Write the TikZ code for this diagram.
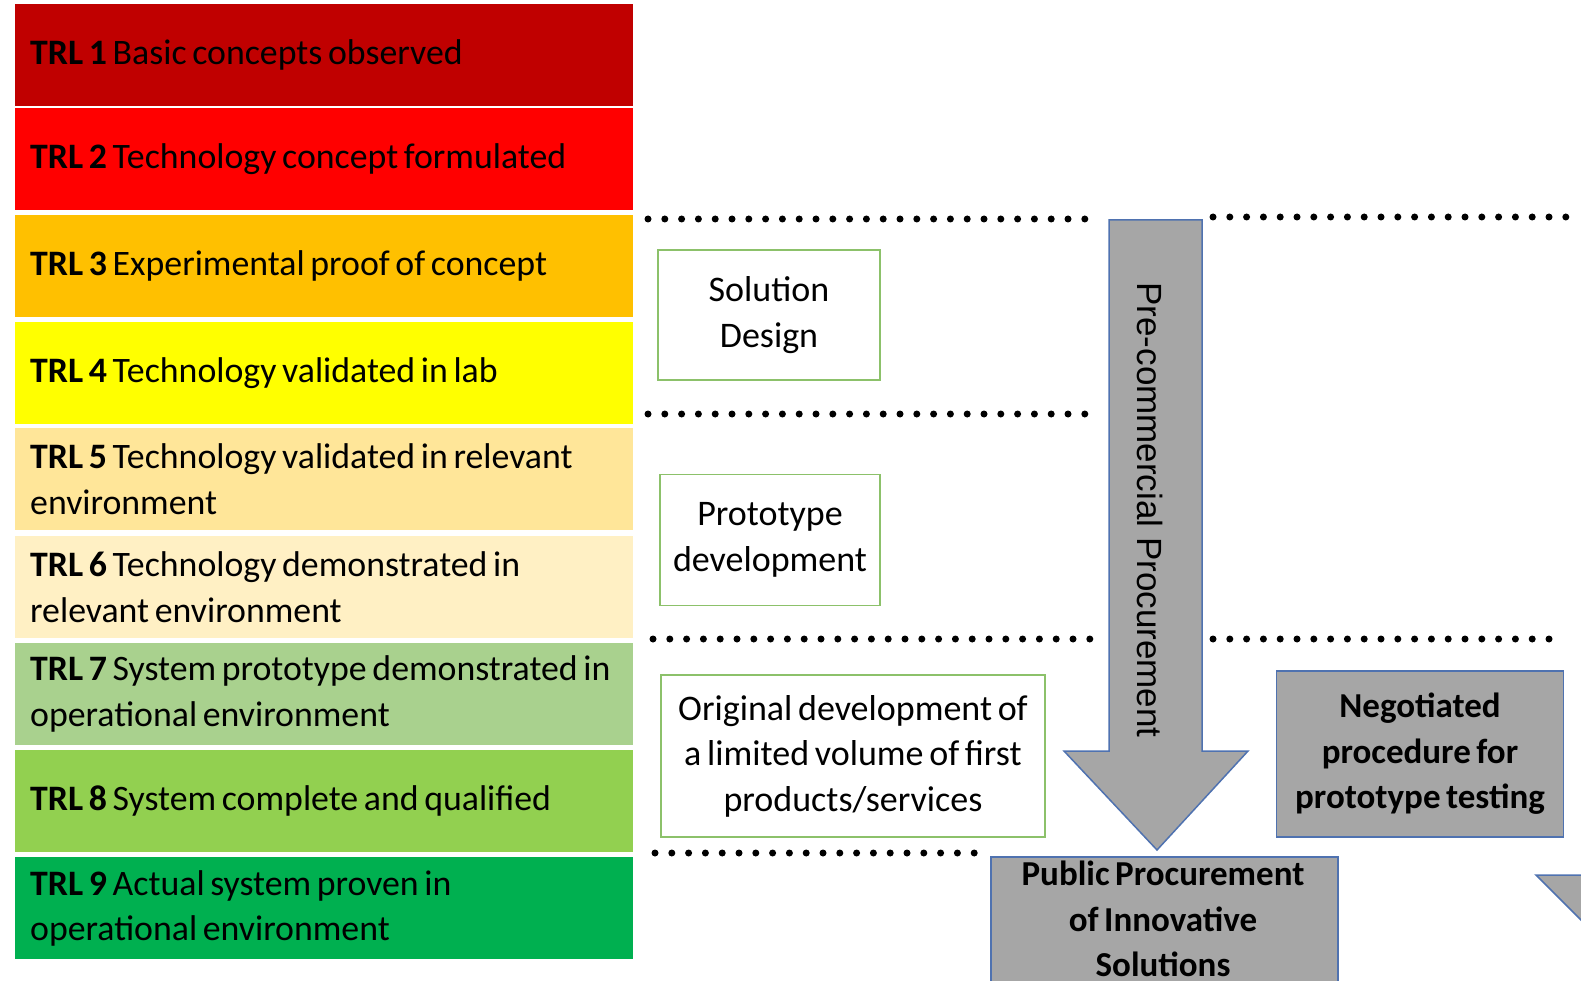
\documentclass[tikz,border=0pt]{standalone}
\usepackage{fontspec}
\setmainfont{Carlito}[WordSpace=0.7]
\newfontfamily\arrowfont{Liberation Sans}
\definecolor{c1}{HTML}{C00000}
\definecolor{c2}{HTML}{FF0000}
\definecolor{c3}{HTML}{FFC000}
\definecolor{c4}{HTML}{FFFF00}
\definecolor{c5}{HTML}{FFE699}
\definecolor{c6}{HTML}{FFF0C4}
\definecolor{c7}{HTML}{A9D18E}
\definecolor{c8}{HTML}{92D050}
\definecolor{c9}{HTML}{00B050}
\definecolor{boxgreen}{HTML}{8CC16A}
\definecolor{arrgray}{HTML}{A6A6A6}
\definecolor{arrblue}{HTML}{4F72B0}
\newcommand\trlfont{\fontsize{35.8}{45.5}\selectfont}
\newcommand\boxfont{\fontsize{36}{45.5}\selectfont}
\newcommand\grayfont{\fontsize{35}{45.5}\selectfont}
\begin{document}
\begin{tikzpicture}[x=1pt,y=-1pt,
  trlrow/.style={rectangle, anchor=north west, minimum width=618pt, minimum height=102pt,
    inner xsep=15pt, inner ysep=0pt, text width=588pt, align=flush left, font=\trlfont, text=black},
  gbox/.style={rectangle, draw=boxgreen, line width=1.5pt, fill=white, align=center,
    font=\boxfont, inner sep=0pt},
  graybox/.style={rectangle, draw=arrblue, line width=1.5pt, fill=arrgray, align=center,
    font=\grayfont\bfseries, inner sep=0pt},
  dotline/.style={line width=7pt, line cap=round, dash pattern=on 0pt off 16.8pt},
  grayshape/.style={draw=arrblue, line width=1.5pt, fill=arrgray, line join=miter}]
\useasboundingbox (0,0) rectangle (1581,981);
\clip (0,0) rectangle (1581,981);

% TRL rows
\node[trlrow, fill=c1] (t1) at (15,4)   {\textbf{TRL 1} Basic concepts observed};
\node[trlrow, fill=c2] (t2) at (15,108) {\textbf{TRL 2} Technology concept formulated};
\node[trlrow, fill=c3] (t3) at (15,215) {\textbf{TRL 3} Experimental proof of concept};
\node[trlrow, fill=c4] (t4) at (15,322) {\textbf{TRL 4} Technology validated in lab};
\node[trlrow, fill=c5] (t5) at (15,428) {\textbf{TRL 5} Technology validated in relevant\\environment};
\node[trlrow, fill=c6] (t6) at (15,536) {\textbf{TRL 6} Technology demonstrated in\\relevant environment};
\node[trlrow, fill=c7] (t7) at (15,643) {\textbf{TRL 7} System prototype demonstrated in\\operational environment};
\node[trlrow, fill=c8] (t8) at (15,750) {\textbf{TRL 8} System complete and qualified};
\node[trlrow, fill=c9] (t9) at (15,857) {\textbf{TRL 9} Actual system proven in\\operational environment};

% dotted separators
\coordinate (d1a) at (648,219);  \coordinate (d1b) at (1092,219);
\coordinate (d1c) at (1213,217); \coordinate (d1d) at (1572,217);
\coordinate (d2a) at (648,414);  \coordinate (d2b) at (1093,414);
\coordinate (d3a) at (653,639);  \coordinate (d3b) at (1094,639);
\coordinate (d3c) at (1213,639); \coordinate (d3d) at (1564,639);
\coordinate (d4a) at (655,853);  \coordinate (d4b) at (978,853);
\draw[dotline] (d1a) -- (d1b);
\draw[dotline] (d1c) -- (d1d);
\draw[dotline] (d2a) -- (d2b);
\draw[dotline] (d3a) -- (d3b);
\draw[dotline] (d3c) -- (d3d);
\draw[dotline] (d4a) -- (d4b);

% green boxes
\node[gbox, minimum width=222pt, minimum height=130pt] (sd) at (769,315) {Solution\\Design};
\node[gbox, minimum width=220pt, minimum height=131pt] (pd) at (770,540) {Prototype\\development};
\node[gbox, minimum width=384pt, minimum height=162pt] (od) at (853,756) {Original development of\\a limited volume of first\\products/services};

% big arrow
\coordinate (a1) at (1109,220);
\coordinate (a2) at (1202,220);
\coordinate (a3) at (1202,751);
\coordinate (a4) at (1248,751);
\coordinate (a5) at (1157,850);
\coordinate (a6) at (1064,751);
\coordinate (a7) at (1109,751);
\draw[grayshape] (a1) -- (a2) -- (a3) -- (a4) -- (a5) -- (a6) -- (a7) -- cycle;
\node[rotate=-90, font=\arrowfont\fontsize{35}{40}\selectfont, inner sep=0pt] (pcp) at (1150,510) {Pre-commercial Procurement};

% gray boxes
\node[graybox, minimum width=287pt, minimum height=166pt] (neg) at (1420,754)
  {Negotiated\\procedure for\\prototype testing};
\node[graybox, anchor=north west, minimum width=347pt, minimum height=140pt] (ppi) at (990,856) {};
\node[font=\grayfont\bfseries, align=center, inner sep=0pt] (ppit) at (1163,919)
  {Public Procurement\\of Innovative\\Solutions};

% partial arrow head at bottom right
\coordinate (b1) at (1536,875);
\coordinate (b2) at (1600,875);
\coordinate (b3) at (1600,939);
\draw[grayshape] (b1) -- (b2) -- (b3) -- cycle;
\end{tikzpicture}
\end{document}
